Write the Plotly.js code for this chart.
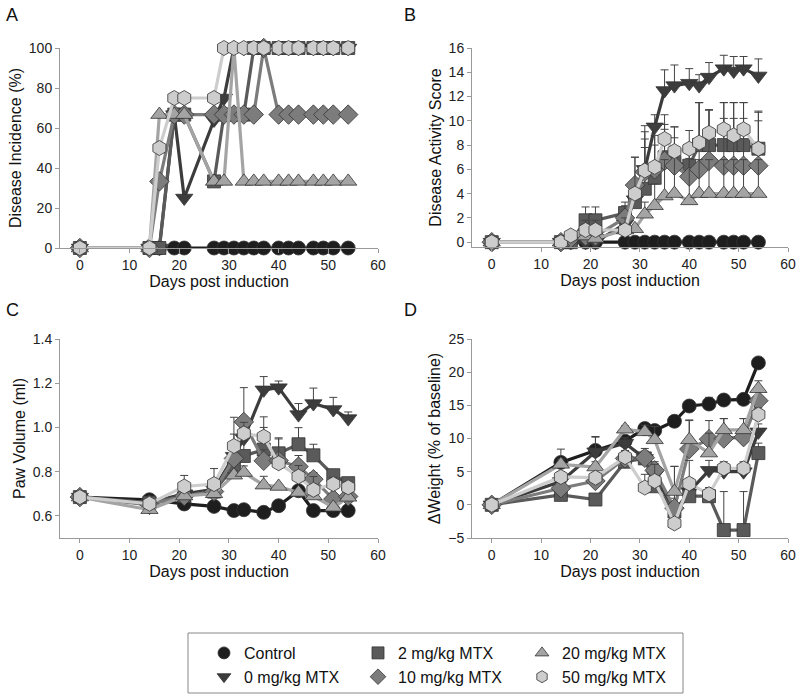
<!DOCTYPE html>
<html>
<head>
<meta charset="utf-8">
<script src="https://cdn.plot.ly/plotly-3.0.1.min.js"></script>
<style>
  body { margin: 0; background: #fff; }
  #chart { width: 800px; height: 699px; }
</style>
</head>
<body>
<div id="chart"></div>
<script>
// sampling days
const daysAB = [0, 14, 16, 19, 21, 27, 29, 31, 33, 35, 37, 40, 42, 44, 47, 49, 51, 54];
const daysCD = [0, 14, 21, 27, 31, 33, 37, 40, 44, 47, 51, 54];

const groups = ['Control', '0 mg/kg MTX', '2 mg/kg MTX', '10 mg/kg MTX', '20 mg/kg MTX', '50 mg/kg MTX'];

// A - disease incidence (%)
const ctlA   = [0, 0, 0, 0, 0, 0, 0, 0, 0, 0, 0, 0, 0, 0, 0, 0, 0, 0];
const mtx0A  = [0, 0, 0, 66.7, 25, 64, 75, 100, 100, 100, 100, 100, 100, 100, 100, 100, 100, 100];
const mtx2A  = [0, 0, 0, 66.7, 66.7, 33.3, 66.7, 66.7, 66.7, 100, 100, 100, 100, 100, 100, 100, 100, 100];
const mtx10A = [0, 0, 33.3, 66.7, 66.7, 66.7, 66.7, 66.7, 66.7, 66.7, 100, 66.7, 66.7, 66.7, 66.7, 66.7, 66.7, 66.7];
const mtx20A = [0, 0, 66.7, 66.7, 66.7, 33.3, 33.3, 100, 33.3, 33.3, 33.3, 33.3, 33.3, 33.3, 33.3, 33.3, 33.3, 33.3];
const mtx50A = [0, 0, 50, 75, 75, 75, 100, 100, 100, 100, 100, 100, 100, 100, 100, 100, 100, 100];

// B - disease activity score (mean, upper SEM)
const ctlB   = [0, 0, 0, 0, 0, 0, 0, 0, 0, 0, 0, 0, 0, 0, 0, 0, 0, 0];
const mtx0B  = [0, 0, 0, 0, 0, 1.5, 3.5, 6.0, 9.5, 12.5, 12.9, 13.1, 12.9, 13.6, 14.3, 14.1, 14.3, 13.7];
const mtx2B  = [0, 0, 0, 1.8, 1.8, 2.4, 3.3, 4.4, 5.3, 7.0, 6.6, 6.3, 8.0, 8.0, 8.0, 8.0, 8.0, 7.7];
const mtx10B = [0, 0, 0.3, 0.5, 0.5, 2.0, 4.7, 5.8, 6.0, 6.7, 6.3, 5.4, 6.0, 6.7, 6.3, 6.3, 6.3, 6.3];
const mtx20B = [0, 0, 0.5, 0.5, 0.3, 1.0, 1.1, 2.3, 3.0, 3.8, 4.0, 3.4, 4.0, 4.0, 4.0, 4.0, 4.0, 4.0];
const mtx50B = [0, 0, 0.55, 1.0, 1.0, 1.0, 4.0, 5.9, 6.2, 8.5, 7.5, 7.7, 8.2, 9.0, 9.3, 8.8, 9.3, 7.7];
const ctlBErr   = [0, 0, 0, 0, 0, 0, 0, 0, 0, 0, 0, 0, 0, 0, 0, 0, 0, 0];
const mtx0BErr  = [0, 0, 0, 0, 0, 0.8, 1.5, 2.5, 1.0, 1.7, 1.7, 1.2, 0.9, 1.2, 1.1, 1.2, 1.0, 1.4];
const mtx2BErr  = [0, 0, 0, 1.1, 1.1, 0.9, 1.6, 5.2, 3.5, 2.3, 2.0, 1.5, 3.5, 2.9, 3.5, 3.5, 3.5, 3.0];
const mtx10BErr = [0, 0, 0, 0.6, 0.6, 1.0, 2.3, 2.0, 2.0, 3.0, 3.2, 2.6, 5.5, 4.2, 3.9, 3.9, 3.9, 3.7];
const mtx20BErr = [0, 0, 0, 0, 0, 0, 0, 1.0, 1.8, 3.0, 3.0, 3.5, 2.8, 2.8, 2.8, 2.8, 2.8, 2.8];
const mtx50BErr = [0, 0, 0, 0.8, 0.8, 1.0, 3.0, 3.2, 3.4, 2.0, 2.0, 1.5, 3.3, 1.9, 2.2, 2.7, 2.2, 3.1];

// C - paw volume (ml)
const ctlC   = [0.685, 0.673, 0.654, 0.643, 0.624, 0.628, 0.616, 0.646, 0.714, 0.624, 0.624, 0.624];
const mtx0C  = [0.685, 0.660, 0.700, 0.720, 0.870, 0.950, 1.170, 1.180, 1.058, 1.108, 1.081, 1.040];
const mtx2C  = [0.685, 0.660, 0.690, 0.710, 0.823, 0.871, 0.900, 0.883, 0.924, 0.874, 0.784, 0.748];
const mtx10C = [0.685, 0.650, 0.690, 0.710, 0.860, 1.025, 0.849, 0.850, 0.823, 0.766, 0.676, 0.688];
const mtx20C = [0.685, 0.628, 0.690, 0.700, 0.784, 0.796, 0.739, 0.733, 0.706, 0.690, 0.639, 0.684];
const mtx50C = [0.685, 0.655, 0.733, 0.744, 0.916, 0.973, 0.958, 0.838, 0.778, 0.718, 0.744, 0.729];
const ctlCErr   = [0, 0.01, 0, 0, 0, 0, 0, 0, 0, 0, 0, 0];
const mtx0CErr  = [0, 0, 0, 0.03, 0.10, 0.10, 0.06, 0.03, 0.05, 0.07, 0.055, 0.03];
const mtx2CErr  = [0, 0, 0, 0, 0.05, 0.15, 0.10, 0.07, 0.075, 0.05, 0, 0.01];
const mtx10CErr = [0, 0, 0, 0, 0.05, 0.155, 0.05, 0.02, 0.05, 0.03, 0.01, 0.01];
const mtx20CErr = [0, 0, 0, 0, 0.02, 0.03, 0.04, 0, 0, 0, 0, 0];
const mtx50CErr = [0, 0, 0.05, 0.07, 0.13, 0.05, 0.09, 0.11, 0.05, 0.06, 0.03, 0.02];

// D - weight change (% of baseline)
const ctlD   = [0, 6.4, 8.2, 9.6, 11.5, 11.2, 12.6, 14.9, 15.2, 15.8, 15.9, 21.4];
const mtx0D  = [0, 3.5, 8.0, 9.3, 7.0, 4.5, -1.0, 2.0, 5.2, 5.0, 5.0, 11.0];
const mtx2D  = [0, 1.5, 0.8, 6.5, 7.0, 2.8, -1.0, 1.3, 1.3, -3.8, -3.8, 7.8];
const mtx10D = [0, 2.5, 3.6, 7.0, 7.1, 5.2, -0.5, 8.4, 9.9, 10.0, 10.2, 15.7];
const mtx20D = [0, 6.1, 5.7, 11.4, 11.0, 9.8, 2.0, 9.8, 7.8, 11.3, 11.3, 17.5];
const mtx50D = [0, 4.2, 4.1, 7.2, 2.6, 3.6, -2.8, 3.2, 1.6, 5.5, 5.5, 13.6];
const ctlDErr   = [0, 2.0, 2.0, 0.6, 0.5, 0.5, 0.4, 0.4, 1.0, 0.5, 0.5, 0.5];
const mtx0DErr  = [0, 1.5, 2.3, 0.8, 1.5, 2.0, 6.8, 2.0, 1.5, 1.0, 1.0, 1.2];
const mtx2DErr  = [0, 0.5, 0.5, 1.0, 1.0, 1.0, 1.0, 1.0, 1.0, 5.8, 5.8, 1.5];
const mtx10DErr = [0, 0.8, 1.0, 1.0, 1.0, 1.0, 1.5, 4.3, 2.8, 3.0, 2.8, 1.5];
const mtx20DErr = [0, 0.8, 0.8, 0.5, 1.0, 2.0, 3.8, 3.0, 3.0, 1.7, 1.7, 1.2];
const mtx50DErr = [0, 0.8, 0.8, 1.0, 2.0, 2.5, 1.0, 3.5, 1.0, 1.0, 1.0, 1.0];

const symbols = ['circle', 'triangle-down', 'square', 'diamond', 'triangle-up', 'hexagon'];
const colors = ['#1e1e1e', '#3c3c3c', '#5a5a5a', '#7c7c7c', '#a4a4a4', '#cdcdcd'];
const sizes = [14, 15, 13, 15, 15, 15];
const FONT = 'Liberation Sans, Arial, sans-serif';

const panels = [
    { x: daysAB, ys: [ctlA, mtx0A, mtx2A, mtx10A, mtx20A, mtx50A], errs: null, xa: 'x', ya: 'y' },
    { x: daysAB, ys: [ctlB, mtx0B, mtx2B, mtx10B, mtx20B, mtx50B],
      errs: [ctlBErr, mtx0BErr, mtx2BErr, mtx10BErr, mtx20BErr, mtx50BErr], xa: 'x2', ya: 'y2' },
    { x: daysCD, ys: [ctlC, mtx0C, mtx2C, mtx10C, mtx20C, mtx50C],
      errs: [ctlCErr, mtx0CErr, mtx2CErr, mtx10CErr, mtx20CErr, mtx50CErr], xa: 'x3', ya: 'y3' },
    { x: daysCD, ys: [ctlD, mtx0D, mtx2D, mtx10D, mtx20D, mtx50D],
      errs: [ctlDErr, mtx0DErr, mtx2DErr, mtx10DErr, mtx20DErr, mtx50DErr], xa: 'x4', ya: 'y4' },
];

const data = [];
panels.forEach(p => {
    p.ys.forEach((y, i) => {
        const tr = {
            type: 'scatter',
            mode: 'lines+markers',
            x: p.x,
            y: y,
            xaxis: p.xa,
            yaxis: p.ya,
            name: groups[i],
            showlegend: false,
            cliponaxis: false,
            line: { color: colors[i], width: 3.2 },
            marker: {
                symbol: symbols[i],
                size: sizes[i],
                color: colors[i],
                line: { color: '#333', width: 0.8 }
            },
        };
        if (p.errs) {
            tr.error_y = {
                type: 'data', symmetric: false,
                array: p.errs[i], arrayminus: p.errs[i].map(() => 0),
                color: '#444', thickness: 1, width: 4
            };
        }
        data.push(tr);
    });
});

// legend-only entries (marker without line), split over three columns
const legendIds = ['legend', 'legend', 'legend2', 'legend2', 'legend3', 'legend3'];
groups.forEach((g, i) => {
    data.push({
        type: 'scatter', mode: 'markers', x: [null], y: [null],
        name: g, legend: legendIds[i], showlegend: true,
        marker: { symbol: symbols[i], size: 12, color: colors[i], line: { color: '#333', width: 0.8 } }
    });
});

const W = 800, H = 699;
const px = v => v / W;
const py = v => 1 - v / H;

function xAxis(domain, anchor) {
    return {
        domain: domain, anchor: anchor, range: [-4, 60],
        tickvals: [0, 10, 20, 30, 40, 50, 60],
        showline: true, linecolor: '#999', linewidth: 1,
        ticks: 'outside', ticklen: 4, tickcolor: '#999',
        showgrid: false, zeroline: false,
        tickfont: { size: 14, color: '#222' },
        title: { text: 'Days post induction', font: { size: 16, color: '#111' }, standoff: 3 }
    };
}
function yAxis(domain, anchor, range, tickvals, title, fmt) {
    return {
        domain: domain, anchor: anchor, range: range, tickvals: tickvals,
        tickformat: fmt || '',
        showline: true, linecolor: '#999', linewidth: 1,
        ticks: 'outside', ticklen: 4, tickcolor: '#999',
        showgrid: false, zeroline: false,
        tickfont: { size: 14, color: '#222' },
        title: { text: title, font: { size: 16, color: '#111' }, standoff: 3 }
    };
}

const legendBase = {
    orientation: 'v', bgcolor: 'rgba(0,0,0,0)', borderwidth: 0,
    font: { size: 16, color: '#111', family: FONT },
    yanchor: 'top', xanchor: 'left', y: py(636)
};

const layout = {
    width: W, height: H,
    margin: { l: 0, r: 0, t: 0, b: 0 },
    paper_bgcolor: '#fff', plot_bgcolor: '#fff',
    font: { family: FONT, color: '#111' },
    separators: '.,',
    xaxis: xAxis([px(60), px(378)], 'y'),
    yaxis: yAxis([py(248), py(48)], 'x', [0, 100], [0, 20, 40, 60, 80, 100], 'Disease Incidence (%)'),
    xaxis2: xAxis([px(472), px(788)], 'y2'),
    yaxis2: yAxis([py(247), py(48)], 'x2', [-0.4, 16], [0, 2, 4, 6, 8, 10, 12, 14, 16], 'Disease Activity Score'),
    xaxis3: xAxis([px(60), px(378)], 'y3'),
    yaxis3: yAxis([py(538), py(339)], 'x3', [0.5, 1.4], [0.6, 0.8, 1.0, 1.2, 1.4], 'Paw Volume (ml)', '.1f'),
    xaxis4: xAxis([px(472), px(788)], 'y4'),
    yaxis4: yAxis([py(538), py(339)], 'x4', [-5, 25], [-5, 0, 5, 10, 15, 20, 25], 'ΔWeight (% of baseline)'),
    legend: Object.assign({}, legendBase, { x: px(204) }),
    legend2: Object.assign({}, legendBase, { x: px(358) }),
    legend3: Object.assign({}, legendBase, { x: px(522) }),
    shapes: [{
        type: 'rect', xref: 'paper', yref: 'paper',
        x0: px(188), x1: px(683), y0: py(693), y1: py(633),
        line: { color: '#888', width: 1 }, fillcolor: 'rgba(0,0,0,0)'
    }],
    annotations: [
        ['A', 4, 15], ['B', 402, 15], ['C', 4, 310], ['D', 402, 310]
    ].map(([t, x, y]) => ({
        text: t, xref: 'paper', yref: 'paper', x: px(x), y: py(y),
        xanchor: 'left', yanchor: 'middle', showarrow: false,
        font: { size: 18, color: '#111' }
    })),
};

Plotly.newPlot('chart', data, layout, { staticPlot: true, displayModeBar: false });
</script>
</body>
</html>
